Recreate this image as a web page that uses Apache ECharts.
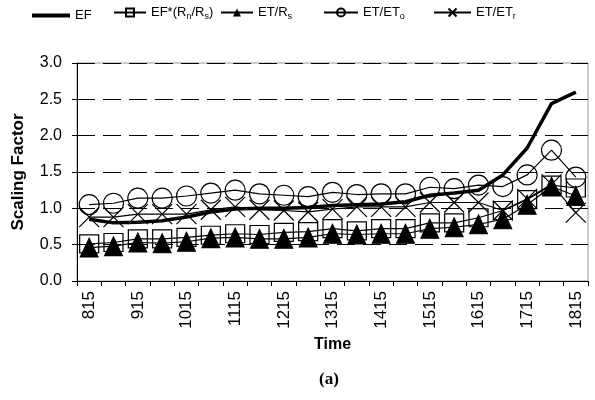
<!DOCTYPE html>
<html>
<head>
<meta charset="utf-8">
<script src="https://cdn.jsdelivr.net/npm/echarts@6/dist/echarts.min.js"></script>
<style>
  html, body { margin: 0; padding: 0; background: #fff; }
  #main { width: 595px; height: 400px; }
</style>
</head>
<body>
<div id="main"></div>
<script>
// time of day (hhmm) for each reading
const times = ['815','845','915','945','1015','1045','1115','1145','1215','1245','1315',
  '1345','1415','1445','1515','1545','1615','1645','1715','1745','1815'];

const ef      = [0.85,0.80,0.81,0.83,0.88,0.95,0.99,1.00,1.00,1.01,1.04,1.05,1.06,1.09,1.18,1.21,1.25,1.46,1.83,2.44,2.60];
const efRnRs  = [0.51,0.53,0.58,0.58,0.60,0.63,0.65,0.64,0.67,0.68,0.72,0.69,0.72,0.72,0.80,0.80,0.87,0.97,1.12,1.32,1.28];
const etRs    = [0.46,0.48,0.53,0.52,0.54,0.59,0.60,0.58,0.58,0.60,0.65,0.64,0.65,0.65,0.72,0.74,0.78,0.85,1.05,1.30,1.17];
const etEto   = [1.05,1.07,1.14,1.14,1.17,1.21,1.25,1.20,1.18,1.16,1.22,1.19,1.20,1.20,1.29,1.27,1.32,1.30,1.46,1.80,1.43];
const etEtr   = [0.88,0.88,0.92,0.92,0.92,0.98,1.02,0.98,0.97,0.95,0.99,1.02,1.02,1.02,1.08,1.08,1.08,0.97,1.13,1.33,0.94];

const yTicks = [0, 0.5, 1.0, 1.5, 2.0, 2.5, 3.0];

const FONT = 'Liberation Sans, Arial, sans-serif';
const crossPath = 'path://M0,0L10,10M10,0L0,10';

// legend labels with subscripts
const legendLabels = {
  'EF': '{a|EF}',
  'EF*(Rn/Rs)': '{a|EF*(R}{s|n}{a|/R}{s|s}{a|)}',
  'ET/Rs': '{a|ET/R}{s|s}',
  'ET/ETo': '{a|ET/ET}{s|o}',
  'ET/ETr': '{a|ET/ET}{s|r}'
};
const legendRich = {
  a: { fontFamily: FONT, fontSize: 13, color: '#000' },
  s: { fontFamily: FONT, fontSize: 9, color: '#000', padding: [8, 0, 0, 0] }
};
function mkLegend(name, left, w, extra) {
  return Object.assign({
    data: [name],
    left: left,
    top: 1,
    itemWidth: w,
    itemHeight: 10,
    itemGap: 4,
    formatter: n => legendLabels[n],
    textStyle: { rich: legendRich, fontFamily: FONT, fontSize: 13, color: '#000' }
  }, extra || {});
}

const chart = echarts.init(document.getElementById('main'));
chart.setOption({
  animation: false,
  backgroundColor: '#fff',
  textStyle: { fontFamily: FONT },
  legend: [
    mkLegend('EF', 27, 38, { icon: 'rect', itemHeight: 4, top: 4 }),
    mkLegend('EF*(Rn/Rs)', 108, 32),
    mkLegend('ET/Rs', 215, 32),
    mkLegend('ET/ETo', 318, 34),
    mkLegend('ET/ETr', 428, 37)
  ],
  grid: {
    left: 77, right: 7, top: 63, bottom: 119,
    show: true, borderColor: '#999', borderWidth: 1
  },
  xAxis: {
    type: 'category',
    data: times,
    boundaryGap: true,
    name: 'Time',
    nameLocation: 'middle',
    nameGap: 56,
    nameTextStyle: { fontFamily: FONT, fontSize: 16, fontWeight: 'bold', color: '#000' },
    axisLine: { lineStyle: { color: '#000', width: 1 } },
    axisTick: { show: true, interval: 0, length: 5, lineStyle: { color: '#000' } },
    axisLabel: { interval: 1, rotate: 90, fontSize: 17, color: '#000', fontFamily: FONT, margin: 10 },
    splitLine: { show: false }
  },
  yAxis: {
    type: 'value',
    min: 0,
    max: 3,
    interval: 0.5,
    name: 'Scaling Factor',
    nameLocation: 'middle',
    nameGap: 50,
    nameTextStyle: { fontFamily: FONT, fontSize: 17, fontWeight: 'bold', color: '#000' },
    axisLine: { show: true, lineStyle: { color: '#000', width: 1 } },
    axisTick: { show: true, length: 5, lineStyle: { color: '#000' } },
    axisLabel: { fontSize: 16, color: '#000', fontFamily: FONT, margin: 15,
      formatter: v => yTicks.indexOf(v) >= 0 ? v.toFixed(1) : '' },
    splitLine: { show: true, lineStyle: { color: '#000', type: [18, 8], width: 1 } }
  },
  series: [
    {
      name: 'EF', type: 'line', data: ef, symbol: 'none',
      lineStyle: { color: '#000', width: 3.5 }, itemStyle: { color: '#000' }, z: 5
    },
    {
      name: 'EF*(Rn/Rs)', type: 'line', data: efRnRs, symbol: 'rect', symbolSize: [19, 18],
      showAllSymbol: true,
      lineStyle: { color: '#000', width: 1.2 },
      itemStyle: { color: 'rgba(255,255,255,0)', borderColor: '#000', borderWidth: 1.2 }
    },
    {
      name: 'ET/Rs', type: 'line', data: etRs, symbol: 'triangle', symbolSize: [18, 19],
      showAllSymbol: true,
      lineStyle: { color: '#000', width: 1.2 },
      itemStyle: { color: '#000', borderColor: '#000' }
    },
    {
      name: 'ET/ETo', type: 'line', data: etEto, symbol: 'circle', symbolSize: 20,
      showAllSymbol: true,
      lineStyle: { color: '#000', width: 1.2 },
      itemStyle: { color: 'rgba(255,255,255,0)', borderColor: '#000', borderWidth: 1.2 }
    },
    {
      name: 'ET/ETr', type: 'line', data: etEtr, symbol: crossPath, symbolSize: 20,
      showAllSymbol: true,
      lineStyle: { color: '#000', width: 1.2 },
      itemStyle: { color: 'rgba(255,255,255,0)', borderColor: '#000', borderWidth: 1.2 }
    }
  ],
  graphic: [
    {
      type: 'text', left: 319, top: 371,
      style: { text: '(a)', font: 'bold 17px "Liberation Serif", "Times New Roman", serif', fill: '#000' }
    }
  ]
});
</script>
</body>
</html>
